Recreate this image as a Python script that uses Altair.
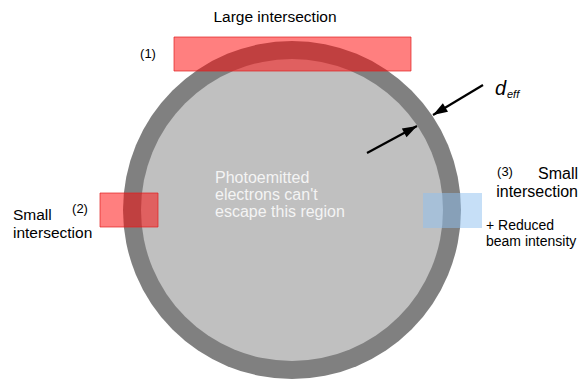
import altair as alt
import pandas as pd

# ---- geometry (page pixel coordinates) ----
circle_cx = [292, 292]
circle_cy = [210, 210]
circle_diam = [338, 302]          # outer ring, inner region
circle_color = ["#808080", "#C0C0C0"]

red_x = [174, 100]
red_x2 = [411, 158]
red_y = [37, 193]
red_y2 = [71, 227]

blue_x = [423]
blue_x2 = [482]
blue_y = [193]
blue_y2 = [228]

arrow_x = [483, 367]
arrow_y = [85, 153]
arrow_x2 = [433, 417]
arrow_y2 = [115, 126]
arrow_angle = [239, 62]

top_labels = ["Large intersection"]
top_lx = [275]
top_ly = [22]

num_labels = ["(1)", "(2)", "(3)"]
num_lx = [148, 80, 505]
num_ly = [58, 213, 176]

left_labels = ["Small", "intersection"]
left_lx = [13, 13]
left_ly = [220, 238]

beam_labels = ["+ Reduced", "beam intensity"]
beam_lx = [486, 486]
beam_ly = [230, 246]

right_labels = ["Small", "intersection"]
right_lx = [578, 578]
right_ly = [179, 197]

inner_labels = ["Photoemitted", "electrons can't", "escape this region"]
inner_lx = [215, 215, 215]
inner_ly = [183, 200, 217]

W, H = 571, 373
XS = alt.Scale(domain=[8, 8 + W])
YS = alt.Scale(domain=[8, 8 + H], reverse=True)
FONT = "Liberation Sans"


def X(f="x"):
    return alt.X(f"{f}:Q", scale=XS, axis=None)


def Y(f="y"):
    return alt.Y(f"{f}:Q", scale=YS, axis=None)


layers = []

# circles
for i in range(2):
    df = pd.DataFrame({"x": [circle_cx[i]], "y": [circle_cy[i]], "s": [circle_diam[i] ** 2]})
    layers.append(
        alt.Chart(df).mark_circle(opacity=1, color=circle_color[i]).encode(
            x=X(), y=Y(), size=alt.Size("s:Q", scale=None, legend=None)
        )
    )

# red rectangles
red_df = pd.DataFrame({"x": red_x, "x2": red_x2, "y": red_y, "y2": red_y2})
layers.append(
    alt.Chart(red_df).mark_rect(
        fill="#FF0000", fillOpacity=0.5, stroke="#E02020", strokeOpacity=0.7, strokeWidth=1
    ).encode(x=X(), x2="x2:Q", y=Y(), y2="y2:Q")
)

# blue rectangle
blue_df = pd.DataFrame({"x": blue_x, "x2": blue_x2, "y": blue_y, "y2": blue_y2})
layers.append(
    alt.Chart(blue_df).mark_rect(fill="#8DBFF0", fillOpacity=0.5).encode(
        x=X(), x2="x2:Q", y=Y(), y2="y2:Q"
    )
)

# arrows
arr_df = pd.DataFrame({"x": arrow_x, "y": arrow_y, "x2": arrow_x2, "y2": arrow_y2, "a": arrow_angle})
layers.append(
    alt.Chart(arr_df).mark_rule(color="black", strokeWidth=2.2).encode(
        x=X(), y=Y(), x2="x2:Q", y2="y2:Q"
    )
)
layers.append(
    alt.Chart(arr_df).mark_point(
        shape="M0,0L0.5,1.45L-0.5,1.45Z", filled=True, color="black", opacity=1, size=400
    ).encode(
        x=X("x2"), y=Y("y2"), angle=alt.Angle("a:Q", scale=None)
    )
)


def text_layer(labels, xs, ys, **kw):
    df = pd.DataFrame({"t": labels, "x": xs, "y": ys})
    return alt.Chart(df).mark_text(font=FONT, baseline="alphabetic", **kw).encode(
        x=X(), y=Y(), text="t:N"
    )


layers.append(text_layer(top_labels, top_lx, top_ly, align="center", fontSize=15.5, color="black"))
layers.append(text_layer(num_labels, num_lx, num_ly, align="center", fontSize=13, color="black"))
layers.append(text_layer(left_labels, left_lx, left_ly, align="left", fontSize=15.5, color="black"))
layers.append(text_layer(beam_labels, beam_lx, beam_ly, align="left", fontSize=14, color="black"))
layers.append(text_layer(right_labels, right_lx, right_ly, align="right", fontSize=16, color="black"))
layers.append(text_layer(inner_labels, inner_lx, inner_ly, align="left", fontSize=16, color="#F4F4F4"))
layers.append(text_layer(["d"], [495], [95], align="left", fontSize=20, fontStyle="italic", color="black"))
layers.append(text_layer(["eff"], [507], [98], align="left", fontSize=11, fontStyle="italic", color="black"))

chart = (
    alt.layer(*layers)
    .properties(width=W, height=H, padding=0, background="white",
                autosize=alt.AutoSizeParams(type="none"))
    .configure_view(stroke=None)
)

chart.save("out.html", embed_options={"renderer": "svg", "actions": False})
